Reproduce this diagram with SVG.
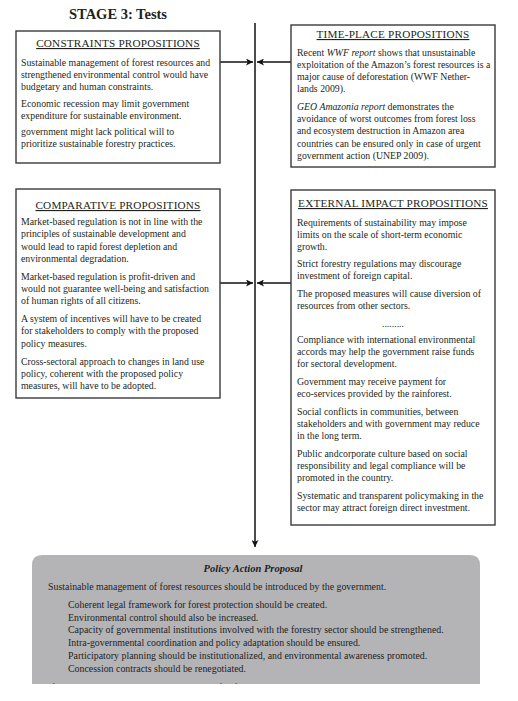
<svg xmlns="http://www.w3.org/2000/svg" width="518" height="701" viewBox="0 0 518 701">
<style>
.box{fill:#fff;stroke:#3a3a3a;stroke-width:1.4}
.hd{font-family:"Liberation Serif",serif;font-size:11.2px;letter-spacing:0.2px;fill:#231f20;text-anchor:middle;text-decoration:underline}
.t{font-family:"Liberation Serif",serif;font-size:9.8px;fill:#231f20}
.g{font-family:"Liberation Serif",serif;font-size:9.9px;fill:#1e1e1e}
.conn{stroke:#111;stroke-width:1.5;fill:none}
</style>
<defs>
<marker id="ah" viewBox="0 0 10 10" refX="10" refY="5" markerWidth="7" markerHeight="7" markerUnits="userSpaceOnUse" orient="auto">
<path d="M0,0 L10,5 L0,10 L2.5,5 Z" fill="#111"/>
</marker>
<clipPath id="cut"><rect x="0" y="0" width="518" height="684"/></clipPath>
</defs>
<rect width="518" height="701" fill="#fff"/>
<text x="118" y="19" text-anchor="middle" font-family="Liberation Serif,serif" font-weight="bold" font-size="14.5" fill="#231f20">STAGE 3: Tests</text>

<g id="connectors">
<path class="conn" d="M255,23 V547" marker-end="url(#ah)"/>
<path class="conn" d="M220,62 H253" marker-end="url(#ah)"/>
<path class="conn" d="M291,62 H257" marker-end="url(#ah)"/>
<path class="conn" d="M220,283 H253" marker-end="url(#ah)"/>
<path class="conn" d="M291,283 H257" marker-end="url(#ah)"/>
</g>

<g id="constraints">
<rect class="box" x="16" y="31" width="204" height="132"/>
<text class="hd" x="118" y="47">CONSTRAINTS PROPOSITIONS</text>
<text class="t" x="21" y="65.5">Sustainable management of forest resources and</text>
<text class="t" x="21" y="77.7">strengthened environmental control would have</text>
<text class="t" x="21" y="89.9">budgetary and human constraints.</text>
<text class="t" x="21" y="106.5">Economic recession may limit government</text>
<text class="t" x="21" y="118.7">expenditure for sustainable environment.</text>
<text class="t" x="21" y="134.5">government might lack political will to</text>
<text class="t" x="21" y="146.7">prioritize sustainable forestry practices.</text>
</g>

<g id="time-place">
<rect class="box" x="291" y="25" width="204" height="142"/>
<text class="hd" x="393" y="38">TIME-PLACE PROPOSITIONS</text>
<text class="t" x="297" y="55.5">Recent <tspan font-style="italic">WWF report</tspan> shows that unsustainable</text>
<text class="t" x="297" y="67.7">exploitation of the Amazon’s forest resources is a</text>
<text class="t" x="297" y="79.9">major cause of deforestation (WWF Nether-</text>
<text class="t" x="297" y="92.1">lands 2009).</text>
<text class="t" x="297" y="110"><tspan font-style="italic">GEO Amazonia report</tspan> demonstrates the</text>
<text class="t" x="297" y="122.2">avoidance of worst outcomes from forest loss</text>
<text class="t" x="297" y="134.4">and ecosystem destruction in Amazon area</text>
<text class="t" x="297" y="146.6">countries can be ensured only in case of urgent</text>
<text class="t" x="297" y="158.8">government action (UNEP 2009).</text>
</g>

<g id="comparative">
<rect class="box" x="16" y="189" width="204" height="209"/>
<text class="hd" x="118" y="209">COMPARATIVE PROPOSITIONS</text>
<text class="t" x="21" y="225">Market-based regulation is not in line with the</text>
<text class="t" x="21" y="237.3">principles of sustainable development and</text>
<text class="t" x="21" y="249.6">would lead to rapid forest depletion and</text>
<text class="t" x="21" y="261.9">environmental degradation.</text>
<text class="t" x="21" y="279.8">Market-based regulation is profit-driven and</text>
<text class="t" x="21" y="292.1">would not guarantee well-being and satisfaction</text>
<text class="t" x="21" y="304.4">of human rights of all citizens.</text>
<text class="t" x="21" y="322">A system of incentives will have to be created</text>
<text class="t" x="21" y="334.3">for stakeholders to comply with the proposed</text>
<text class="t" x="21" y="346.6">policy measures.</text>
<text class="t" x="21" y="364.5">Cross-sectoral approach to changes in land use</text>
<text class="t" x="21" y="376.8">policy, coherent with the proposed policy</text>
<text class="t" x="21" y="389.1">measures, will have to be adopted.</text>
</g>

<g id="external-impact">
<rect class="box" x="291" y="190" width="204" height="335"/>
<text class="hd" x="393" y="207">EXTERNAL IMPACT PROPOSITIONS</text>
<text class="t" x="297" y="226">Requirements of sustainability may impose</text>
<text class="t" x="297" y="238">limits on the scale of short-term economic</text>
<text class="t" x="297" y="250">growth.</text>
<text class="t" x="297" y="267">Strict forestry regulations may discourage</text>
<text class="t" x="297" y="279">investment of foreign capital.</text>
<text class="t" x="297" y="297">The proposed measures will cause diversion of</text>
<text class="t" x="297" y="309">resources from other sectors.</text>
<text class="t" x="393" y="327" text-anchor="middle">.........</text>
<text class="t" x="297" y="343">Compliance with international environmental</text>
<text class="t" x="297" y="355">accords may help the government raise funds</text>
<text class="t" x="297" y="367">for sectoral development.</text>
<text class="t" x="297" y="385">Government may receive payment for</text>
<text class="t" x="297" y="397">eco-services provided by the rainforest.</text>
<text class="t" x="297" y="415">Social conflicts in communities, between</text>
<text class="t" x="297" y="427">stakeholders and with government may reduce</text>
<text class="t" x="297" y="439">in the long term.</text>
<text class="t" x="297" y="457">Public andcorporate culture based on social</text>
<text class="t" x="297" y="469">responsibility and legal compliance will be</text>
<text class="t" x="297" y="481">promoted in the country.</text>
<text class="t" x="297" y="499">Systematic and transparent policymaking in the</text>
<text class="t" x="297" y="511">sector may attract foreign direct investment.</text>
</g>

<g id="policy-action-proposal">
<path d="M32,684 V565 Q32,555 42,555 H470 Q480,555 480,565 V684 Z" fill="#b4b4b6"/>
<text x="253" y="572" text-anchor="middle" font-family="Liberation Serif,serif" font-weight="bold" font-style="italic" font-size="10.5" fill="#1e1e1e">Policy Action Proposal</text>
<text class="g" x="48" y="590">Sustainable management of forest resources should be introduced by the government.</text>
<text class="g" x="68" y="608">Coherent legal framework for forest protection should be created.</text>
<text class="g" x="68" y="620.5">Environmental control should also be increased.</text>
<text class="g" x="68" y="633">Capacity of governmental institutions involved with the forestry sector should be strengthened.</text>
<text class="g" x="68" y="646">Intra-governmental coordination and policy adaptation should be ensured.</text>
<text class="g" x="68" y="659">Participatory planning should be institutionalized, and environmental awareness promoted.</text>
<text class="g" x="68" y="672">Concession contracts should be renegotiated.</text>
<text class="g" x="48" y="690.5" clip-path="url(#cut)">If such policies are implemented, the rate of deforestation will be reduced.</text>
</g>
</svg>
